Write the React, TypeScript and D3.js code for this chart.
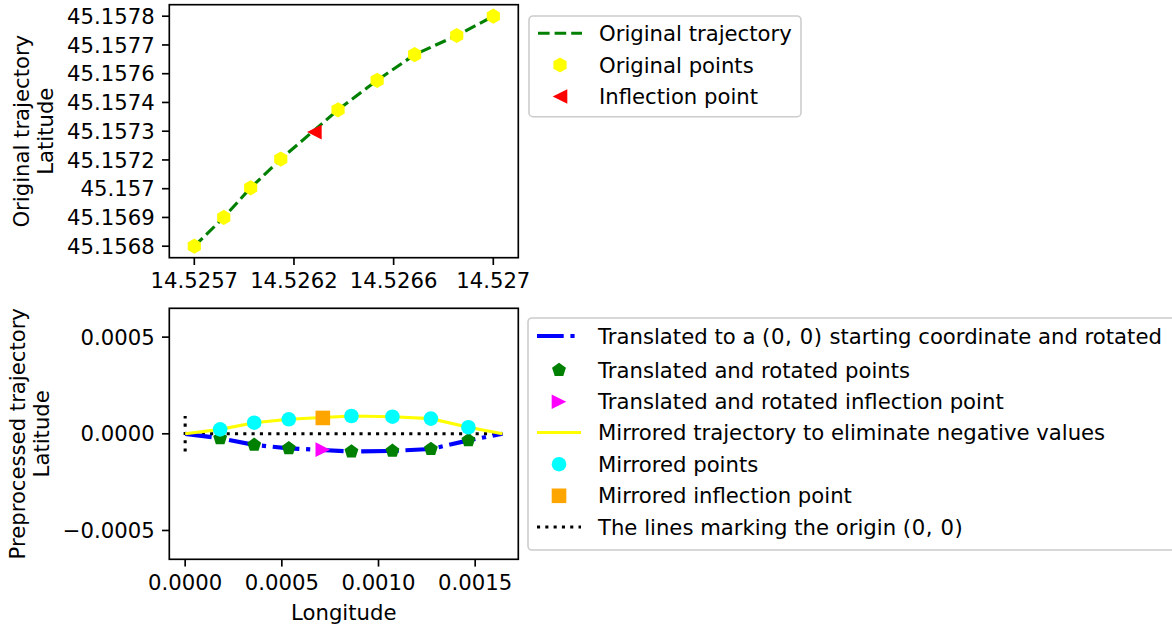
import React from "react";
import * as d3 from "d3";

const W = 1172;
const H = 628;
const FONT = "'DejaVu Sans', sans-serif";
const FS = 21.2;
const TICK = 7.3;
const MS = 14.6; // marker size (px)

// ---- original trajectory (top panel) ----
const origLon = [14.5257, 14.525828, 14.525945, 14.526076, 14.526325, 14.526495, 14.526658, 14.526841, 14.527];
const origLat = [45.1568, 45.156925, 45.157054, 45.157179, 45.157393, 45.157521, 45.157633, 45.157716, 45.1578];
const inflection = { lon: 14.526222, lat: 45.157296 };
const latTickLabels = ["45.1568", "45.1569", "45.157", "45.1572", "45.1573", "45.1574", "45.1576", "45.1577", "45.1578"];
const lonTickLabels = ["14.5257", "14.5262", "14.5266", "14.527"];

// ---- preprocessed trajectory (bottom panel) ----
const procX = [0, 0.000181, 0.000357, 0.000536, 0.00086, 0.001072, 0.001271, 0.001465, 0.001641];
const rotatedY = [0, -0.000023, -0.0000575, -0.000075, -0.000092, -0.0000885, -0.0000785, -0.000034, 0];
const mirroredY = [0, 0.000023, 0.0000575, 0.000075, 0.000092, 0.0000885, 0.0000785, 0.000034, 0];
const rotInflection = { x: 0.000712, y: -0.000082 };
const mirInflection = { x: 0.000712, y: 0.000082 };
const procXTicks = [0, 0.0005, 0.001, 0.0015];
const procYTicks = [-0.0005, 0, 0.0005];

const topLegend = ["Original trajectory", "Original points", "Inflection point"];
// [before, math part, after]
const bottomLegend: [string, string, string][] = [
  ["Translated to a ", "(0, 0)", " starting coordinate and rotated"],
  ["Translated and rotated points", "", ""],
  ["Translated and rotated inflection point", "", ""],
  ["Mirrored trajectory to eliminate negative values", "", ""],
  ["Mirrored points", "", ""],
  ["Mirrored inflection point", "", ""],
  ["The lines marking the origin ", "(0, 0)", ""],
];

type Box = { x: number; y: number; w: number; h: number };
const topBox: Box = { x: 169.3, y: 4.7, w: 349, h: 253 };
const botBox: Box = { x: 169.3, y: 308.3, w: 349, h: 251 };

// equal aspect, 5% margins, limits expanded on the loose dimension (like axis('equal'))
function equalScales(xs: number[], ys: number[], box: Box) {
  const [x0, x1] = d3.extent(xs) as [number, number];
  const [y0, y1] = d3.extent(ys) as [number, number];
  const k = Math.min(box.w / ((x1 - x0) * 1.1), box.h / ((y1 - y0) * 1.1));
  const cx = (x0 + x1) / 2, cy = (y0 + y1) / 2;
  const hw = box.w / k / 2, hh = box.h / k / 2;
  const x = d3.scaleLinear().domain([cx - hw, cx + hw]).range([box.x, box.x + box.w]);
  const y = d3.scaleLinear().domain([cy - hh, cy + hh]).range([box.y + box.h, box.y]);
  return { x, y };
}

// regular polygon, vertex on top
function polygon(n: number, r: number, rot = 0) {
  const pts = d3.range(n).map((i) => {
    const a = -Math.PI / 2 + rot + (i * 2 * Math.PI) / n;
    return [r * Math.cos(a), r * Math.sin(a)];
  });
  return "M" + pts.map((p) => p.join(",")).join("L") + "Z";
}

function triangle(dir: "left" | "right", s: number) {
  const h = s / 2;
  return dir === "left"
    ? `M${-h},0L${h},${-h}L${h},${h}Z`
    : `M${h},0L${-h},${-h}L${-h},${h}Z`;
}

const markerPath: Record<string, string> = {
  hexagon: polygon(6, MS / 2 + 0.3),
  pentagon: polygon(5, MS / 2),
  circle: d3.symbol(d3.symbolCircle, Math.PI * (MS / 2) ** 2)() as string,
  square: `M${-MS / 2},${-MS / 2}h${MS}v${MS}h${-MS}Z`,
  left: triangle("left", MS),
  right: triangle("right", MS),
};

const Marker = ({ x, y, kind, color }: { x: number; y: number; kind: string; color: string }) => (
  <path d={markerPath[kind]} transform={`translate(${x},${y})`} fill={color} />
);

const DASHED = "11.6,5";
const DASHDOT = "26.7,6.7,4.2,6.7";
const DOTTED = "3.1,5.2";

type Entry = {
  label: [string, string, string];
  line?: { color: string; width: number; dash?: string };
  marker?: { kind: string; color: string };
};

const Legend = ({ x, y, w, h, rows, entries }: { x: number; y: number; w: number; h: number; rows: number[]; entries: Entry[] }) => (
  <g>
    <rect x={x} y={y} width={w} height={h} rx={4} fill="white" fillOpacity={0.8} stroke="#cccccc" strokeWidth={1.6} />
    {entries.map((e, i) => {
      const cy = y + rows[i];
      return (
        <g key={i}>
          {e.line && (
            <line x1={x + 9} x2={x + 53} y1={cy} y2={cy} stroke={e.line.color} strokeWidth={e.line.width} strokeDasharray={e.line.dash} />
          )}
          {e.marker && <Marker x={x + 31} y={cy} kind={e.marker.kind} color={e.marker.color} />}
          <text x={x + 70} y={cy} dy="0.36em" fontSize={FS} fontFamily={FONT}>
            {e.label[0]}
            {e.label[1] && <tspan letterSpacing={0.6}>{e.label[1]}</tspan>}
            {e.label[2]}
          </text>
        </g>
      );
    })}
  </g>
);

const fmt = (v: number) => d3.format(".4f")(v).replace("-", "\u2212");

export default function App() {
  // top panel
  const top = equalScales(origLon, origLat, topBox);
  const [latMin, latMax] = d3.extent(origLat) as [number, number];
  const [lonMin, lonMax] = d3.extent(origLon) as [number, number];
  const latTicks = latTickLabels.map((l, i) => ({ v: latMin + (i * (latMax - latMin)) / (latTickLabels.length - 1), l }));
  const lonTicks = lonTickLabels.map((l, i) => ({ v: lonMin + (i * (lonMax - lonMin)) / (lonTickLabels.length - 1), l }));
  const topIdx = d3.range(origLon.length);
  const topLine = d3.line<number>().x((i) => top.x(origLon[i])).y((i) => top.y(origLat[i]))(topIdx) as string;

  // bottom panel
  const maxAbs = d3.max(mirroredY) as number;
  const bot = equalScales(procX, [...rotatedY, ...mirroredY], botBox);
  const idx = d3.range(procX.length);
  const inner = idx.slice(1, -1);
  const rotLine = d3.line<number>().x((i) => bot.x(procX[i])).y((i) => bot.y(rotatedY[i]))(idx) as string;
  const mirLine = d3.line<number>().x((i) => bot.x(procX[i])).y((i) => bot.y(mirroredY[i]))(idx) as string;
  const xEnd = procX[procX.length - 1];

  const axisFrame = (b: Box) => (
    <rect x={b.x} y={b.y} width={b.w} height={b.h} fill="none" stroke="black" strokeWidth={1.67} />
  );

  return (
    <svg width={W} height={H} style={{ position: "absolute", left: 0, top: 0, display: "block" }} fontFamily={FONT}>
      <rect width={W} height={H} fill="white" />

      {/* ---------- top panel ---------- */}
      <path d={topLine} fill="none" stroke="green" strokeWidth={3.1} strokeDasharray={DASHED} />
      {topIdx.map((i) => (
        <Marker key={i} x={top.x(origLon[i])} y={top.y(origLat[i])} kind="hexagon" color="yellow" />
      ))}
      <Marker x={top.x(inflection.lon)} y={top.y(inflection.lat)} kind="left" color="red" />
      {axisFrame(topBox)}
      {latTicks.map((t, i) => (
        <g key={i}>
          <line x1={topBox.x} x2={topBox.x - TICK} y1={top.y(t.v)} y2={top.y(t.v)} stroke="black" strokeWidth={1.67} />
          <text x={topBox.x - 2 * TICK} y={top.y(t.v)} dy="0.36em" textAnchor="end" fontSize={FS}>{t.l}</text>
        </g>
      ))}
      {lonTicks.map((t, i) => (
        <g key={i}>
          <line x1={top.x(t.v)} x2={top.x(t.v)} y1={topBox.y + topBox.h} y2={topBox.y + topBox.h + TICK} stroke="black" strokeWidth={1.67} />
          <text x={top.x(t.v)} y={topBox.y + topBox.h + 2 * TICK} dy="0.76em" textAnchor="middle" fontSize={FS}>{t.l}</text>
        </g>
      ))}
      <text transform={`translate(28.5,${topBox.y + topBox.h / 2}) rotate(-90)`} textAnchor="middle" fontSize={FS}>Original trajectory</text>
      <text transform={`translate(52.5,${topBox.y + topBox.h / 2}) rotate(-90)`} textAnchor="middle" fontSize={FS}>Latitude</text>

      <Legend
        x={529}
        y={16}
        w={272}
        h={100.7}
        rows={[17.3, 49, 80.5]}
        entries={[
          { label: [topLegend[0], "", ""], line: { color: "green", width: 3.1, dash: DASHED } },
          { label: [topLegend[1], "", ""], marker: { kind: "hexagon", color: "yellow" } },
          { label: [topLegend[2], "", ""], marker: { kind: "left", color: "red" } },
        ]}
      />

      {/* ---------- bottom panel ---------- */}
      <line x1={bot.x(0)} x2={bot.x(xEnd)} y1={bot.y(0)} y2={bot.y(0)} stroke="black" strokeWidth={3.1} strokeDasharray={DOTTED} />
      <line x1={bot.x(0)} x2={bot.x(0)} y1={bot.y(-maxAbs)} y2={bot.y(maxAbs)} stroke="black" strokeWidth={3.1} strokeDasharray={DOTTED} />
      <path d={rotLine} fill="none" stroke="blue" strokeWidth={4.2} strokeDasharray={DASHDOT} />
      {inner.map((i) => (
        <Marker key={i} x={bot.x(procX[i])} y={bot.y(rotatedY[i])} kind="pentagon" color="green" />
      ))}
      <Marker x={bot.x(rotInflection.x)} y={bot.y(rotInflection.y)} kind="right" color="magenta" />
      <path d={mirLine} fill="none" stroke="yellow" strokeWidth={3.1} />
      {inner.map((i) => (
        <Marker key={i} x={bot.x(procX[i])} y={bot.y(mirroredY[i])} kind="circle" color="cyan" />
      ))}
      <Marker x={bot.x(mirInflection.x)} y={bot.y(mirInflection.y)} kind="square" color="orange" />
      {axisFrame(botBox)}
      {procYTicks.map((v, i) => (
        <g key={i}>
          <line x1={botBox.x} x2={botBox.x - TICK} y1={bot.y(v)} y2={bot.y(v)} stroke="black" strokeWidth={1.67} />
          <text x={botBox.x - 2 * TICK} y={bot.y(v)} dy="0.36em" textAnchor="end" fontSize={FS}>{fmt(v)}</text>
        </g>
      ))}
      {procXTicks.map((v, i) => (
        <g key={i}>
          <line x1={bot.x(v)} x2={bot.x(v)} y1={botBox.y + botBox.h} y2={botBox.y + botBox.h + TICK} stroke="black" strokeWidth={1.67} />
          <text x={bot.x(v)} y={botBox.y + botBox.h + 2 * TICK} dy="0.76em" textAnchor="middle" fontSize={FS}>{fmt(v)}</text>
        </g>
      ))}
      <text x={botBox.x + botBox.w / 2} y={620} textAnchor="middle" fontSize={FS}>Longitude</text>
      <text transform={`translate(25,${botBox.y + botBox.h / 2}) rotate(-90)`} textAnchor="middle" fontSize={FS}>Preprocessed trajectory</text>
      <text transform={`translate(49,${botBox.y + botBox.h / 2}) rotate(-90)`} textAnchor="middle" fontSize={FS}>Latitude</text>

      <Legend
        x={528}
        y={318}
        w={652}
        h={232}
        rows={[18, 52, 83.7, 114.5, 146.2, 177.8, 209]}
        entries={[
          { label: bottomLegend[0], line: { color: "blue", width: 4.2, dash: DASHDOT } },
          { label: bottomLegend[1], marker: { kind: "pentagon", color: "green" } },
          { label: bottomLegend[2], marker: { kind: "right", color: "magenta" } },
          { label: bottomLegend[3], line: { color: "yellow", width: 3.1 } },
          { label: bottomLegend[4], marker: { kind: "circle", color: "cyan" } },
          { label: bottomLegend[5], marker: { kind: "square", color: "orange" } },
          { label: bottomLegend[6], line: { color: "black", width: 3.1, dash: DOTTED } },
        ]}
      />
    </svg>
  );
}
